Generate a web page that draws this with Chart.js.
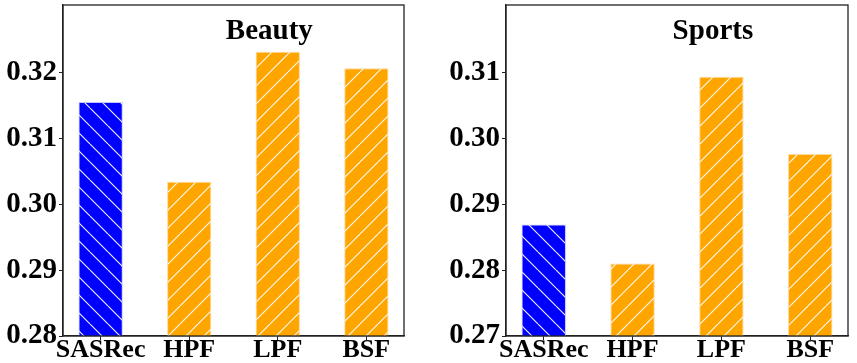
<!DOCTYPE html>
<html lang="en">
<head>
  <meta charset="UTF-8" />
  <title>Beauty / Sports</title>
  <script src="https://cdn.jsdelivr.net/npm/chart.js"></script>
  <style>
    * { margin: 0; padding: 0; box-sizing: border-box; }
    body {
      width: 857px;
      height: 363px;
      overflow: hidden;
      background: #fff;
      display: flex;
    }
    .panel { position: relative; height: 363px; }
    #left { width: 430px; }
    #right { width: 427px; }
  </style>
</head>
<body>

<div class="panel" id="left"><canvas id="beautyChart"></canvas></div>
<div class="panel" id="right"><canvas id="sportsChart"></canvas></div>

<script>
  // data
  const methods = ["SASRec", "HPF", "LPF", "BSF"];
  const beautyValues = [0.3155, 0.3034, 0.3231, 0.3206];
  const sportsValues = [0.2869, 0.2810, 0.3093, 0.2976];
  const beautyTicks = [0.28, 0.29, 0.30, 0.31, 0.32];
  const sportsTicks = [0.27, 0.28, 0.29, 0.30, 0.31];
  const beautyRange = [0.28, 0.3302];
  const sportsRange = [0.27, 0.3202];

  const serif = "'Liberation Serif', 'Times New Roman', serif";
  const axisColor = "#222";

  // white diagonal hatch on a solid fill
  function hatch(fill, dir) {
    const s = 18;
    const c = document.createElement("canvas");
    c.width = s; c.height = s;
    const g = c.getContext("2d");
    g.fillStyle = fill;
    g.fillRect(0, 0, s, s);
    g.strokeStyle = "rgba(255,255,255,0.95)";
    g.lineWidth = 1.1;
    g.beginPath();
    for (const k of [-s, 0, s]) {
      if (dir === "/") { g.moveTo(k, s); g.lineTo(k + s, 0); }
      else { g.moveTo(k, 0); g.lineTo(k + s, s); }
    }
    g.stroke();
    return g.createPattern(c, "repeat");
  }

  const blueHatch = hatch("#0000ff", "\\");
  const orangeHatch = hatch("#ffa500", "/");

  // box around the plot + title inside it
  const framePlugin = {
    id: "frame",
    afterDatasetsDraw(chart, args, opts) {
      const { ctx, chartArea: a } = chart;
      ctx.save();
      ctx.strokeStyle = axisColor;
      ctx.lineWidth = 1.3;
      ctx.strokeRect(a.left, a.top, a.right - a.left, a.bottom - a.top);
      ctx.fillStyle = "#000";
      ctx.font = "bold 29px " + serif;
      ctx.textAlign = "center";
      ctx.textBaseline = "alphabetic";
      ctx.fillText(opts.text, a.left + 0.605 * (a.right - a.left), a.top + 34);
      ctx.restore();
    }
  };

  function noPad(s) {
    s.paddingTop = 0; s.paddingBottom = 0;
    s.paddingLeft = 0; s.paddingRight = 0;
  }

  function makeChart(id, values, ticks, range, title, yWidth, padRight) {
    const ctx = document.getElementById(id).getContext("2d");
    return new Chart(ctx, {
      type: "bar",
      data: {
        datasets: [{
          data: values.map((v, i) => ({ x: i, y: v })),
          backgroundColor: values.map((v, i) => i === 0 ? blueHatch : orangeHatch),
          borderColor: values.map((v, i) => i === 0 ? "rgba(190,190,255,0.9)" : "rgba(255,214,150,0.95)"),
          borderWidth: 1,
          categoryPercentage: 1,
          barPercentage: 0.5
        }]
      },
      options: {
        responsive: true,
        maintainAspectRatio: false,
        animation: false,
        layout: { padding: { top: 5, right: padRight, left: 0, bottom: 0 } },
        plugins: {
          legend: { display: false },
          tooltip: { enabled: false },
          frame: { text: title }
        },
        scales: {
          x: {
            type: "linear",
            offset: false,
            min: -0.425,
            max: 3.425,
            afterBuildTicks: s => { s.ticks = methods.map((m, i) => ({ value: i })); },
            afterFit: s => { s.height = 27; noPad(s); },
            ticks: {
              callback: v => methods[v] ?? "",
              autoSkip: false,
              maxRotation: 0,
              color: "#000",
              padding: -5,
              font: { family: serif, size: 26, weight: "bold" }
            },
            grid: { display: true, offset: false, drawOnChartArea: false, drawTicks: true, tickLength: 4, color: axisColor },
            border: { display: true, color: axisColor, width: 1.3 }
          },
          y: {
            min: range[0],
            max: range[1],
            afterBuildTicks: s => { s.ticks = ticks.map(v => ({ value: v })); },
            afterFit: s => { s.width = yWidth; noPad(s); },
            ticks: {
              callback: v => v.toFixed(2),
              color: "#000",
              padding: 2,
              font: { family: serif, size: 29, weight: "bold" }
            },
            grid: { display: true, drawOnChartArea: false, drawTicks: true, tickLength: 4, color: axisColor },
            border: { display: true, color: axisColor, width: 1.3 }
          }
        }
      },
      plugins: [framePlugin]
    });
  }

  makeChart("beautyChart", beautyValues, beautyTicks, beautyRange, "Beauty", 63, 26);
  makeChart("sportsChart", sportsValues, sportsTicks, sportsRange, "Sports", 76, 9);
</script>
</body>
</html>
